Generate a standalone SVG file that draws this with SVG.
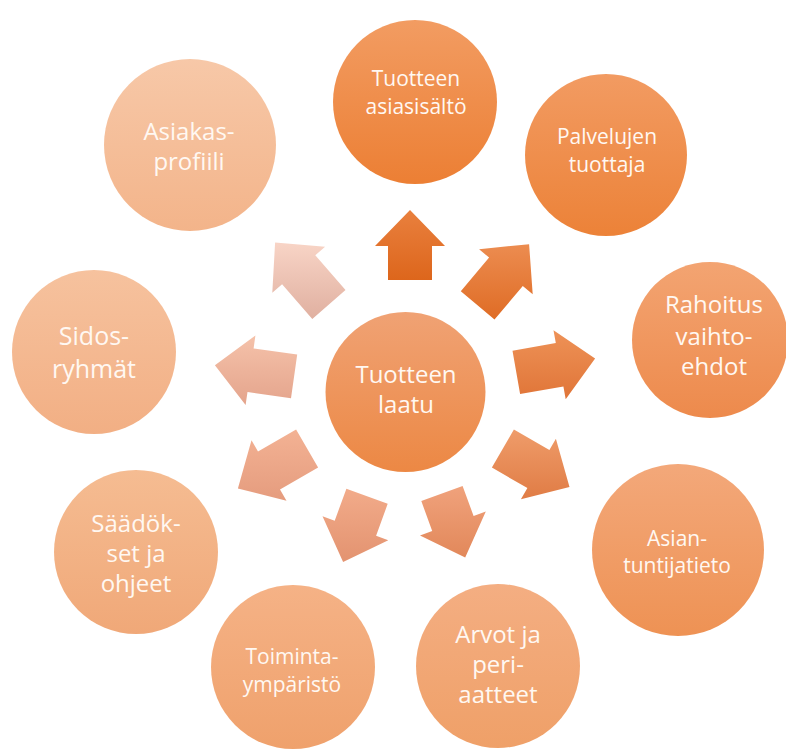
<svg xmlns="http://www.w3.org/2000/svg" width="786" height="749" viewBox="0 0 786 749">
<defs>
<linearGradient id="gC" x1="0" y1="0" x2="0" y2="1"><stop offset="0" stop-color="#f0a274"/><stop offset="1" stop-color="#ec8844"/></linearGradient>
<linearGradient id="g1" x1="0" y1="0" x2="0" y2="1"><stop offset="0" stop-color="#f29c62"/><stop offset="1" stop-color="#ec7f34"/></linearGradient>
<linearGradient id="g2" x1="0" y1="0" x2="0" y2="1"><stop offset="0" stop-color="#f29b62"/><stop offset="1" stop-color="#ec8238"/></linearGradient>
<linearGradient id="g3" x1="0" y1="0" x2="0" y2="1"><stop offset="0" stop-color="#f3a472"/><stop offset="1" stop-color="#ed8a4c"/></linearGradient>
<linearGradient id="g4" x1="0" y1="0" x2="0" y2="1"><stop offset="0" stop-color="#f3a87a"/><stop offset="1" stop-color="#ee9254"/></linearGradient>
<linearGradient id="g5" x1="0" y1="0" x2="0" y2="1"><stop offset="0" stop-color="#f4ae82"/><stop offset="1" stop-color="#efa068"/></linearGradient>
<linearGradient id="g6" x1="0" y1="0" x2="0" y2="1"><stop offset="0" stop-color="#f5b286"/><stop offset="1" stop-color="#efa16c"/></linearGradient>
<linearGradient id="g7" x1="0" y1="0" x2="0" y2="1"><stop offset="0" stop-color="#f5bc92"/><stop offset="1" stop-color="#f0a878"/></linearGradient>
<linearGradient id="g8" x1="0" y1="0" x2="0" y2="1"><stop offset="0" stop-color="#f6c29e"/><stop offset="1" stop-color="#f2af84"/></linearGradient>
<linearGradient id="g9" x1="0" y1="0" x2="0" y2="1"><stop offset="0" stop-color="#f7c8a8"/><stop offset="1" stop-color="#f3b48a"/></linearGradient>
<linearGradient id="a1" x1="0" y1="0" x2="0" y2="1"><stop offset="0" stop-color="#e9803e"/><stop offset="1" stop-color="#dd661c"/></linearGradient>
<linearGradient id="a2" x1="0" y1="0" x2="0" y2="1"><stop offset="0" stop-color="#ec8c50"/><stop offset="1" stop-color="#df6c25"/></linearGradient>
<linearGradient id="a3" x1="0" y1="0" x2="0" y2="1"><stop offset="0" stop-color="#ee9257"/><stop offset="1" stop-color="#e07538"/></linearGradient>
<linearGradient id="a4" x1="0" y1="0" x2="0" y2="1"><stop offset="0" stop-color="#ef9c6a"/><stop offset="1" stop-color="#e07c45"/></linearGradient>
<linearGradient id="a5" x1="0" y1="0" x2="0" y2="1"><stop offset="0" stop-color="#f0a27c"/><stop offset="1" stop-color="#e2885a"/></linearGradient>
<linearGradient id="a6" x1="0" y1="0" x2="0" y2="1"><stop offset="0" stop-color="#f2ab8a"/><stop offset="1" stop-color="#e39370"/></linearGradient>
<linearGradient id="a7" x1="0" y1="0" x2="0" y2="1"><stop offset="0" stop-color="#f3b294"/><stop offset="1" stop-color="#e59c7e"/></linearGradient>
<linearGradient id="a8" x1="0" y1="0" x2="0" y2="1"><stop offset="0" stop-color="#f5c2aa"/><stop offset="1" stop-color="#e4a48c"/></linearGradient>
<linearGradient id="a9" x1="0" y1="0" x2="0" y2="1"><stop offset="0" stop-color="#f8d4c6"/><stop offset="1" stop-color="#e0b0a0"/></linearGradient>
</defs>
<style>
text{font-family:"Open Sans","Noto Sans","DejaVu Sans",sans-serif;fill:#fff8f2;text-anchor:middle}
.s{font-size:21px}
.m{font-size:24px}
.l{font-size:25px}
</style>
<rect width="786" height="749" fill="#ffffff"/>
<g id="connectors">
<polygon fill="url(#a1)" points="388,280 388,246 375,246 410,210 445,246 432,246 432,280"/>
<polygon fill="url(#a2)" points="460.8,291.3 489.1,257.6 479.1,249.2 529.1,244.2 532.7,294.2 522.8,285.9 494.5,319.6"/>
<polygon fill="url(#a3)" points="512.5,350.7 555.8,343.1 553.5,330.3 595.1,358.5 565.7,399.2 563.4,386.4 520.1,394.1"/>
<polygon fill="url(#a4)" points="513.9,429.5 549.4,450 555.9,438.7 569.5,487 520.9,499.3 527.4,488.1 491.9,467.6"/>
<polygon fill="url(#a5)" points="462.6,486 473.6,516 485.8,511.6 465.2,557.4 420,535.5 432.2,531.1 421.3,501"/>
<polygon fill="url(#a6)" points="387.7,503.8 376.1,535.8 388.3,540.2 343.1,562.1 322.5,516.3 334.7,520.7 346.4,488.8"/>
<polygon fill="url(#a7)" points="318.1,467.6 280,489.6 286.5,500.8 237.9,488.5 251.5,440.2 258,451.5 296.1,429.5"/>
<polygon fill="url(#a8)" points="291,398.2 247.5,392.1 245.6,404.9 214.9,365.3 255.4,335.6 253.6,348.5 297.2,354.6"/>
<polygon fill="url(#a9)" points="312.3,318.9 282.1,284.2 272.3,292.7 275.1,242.6 325.1,246.8 315.3,255.3 345.5,290"/>
</g>
<g id="center">
<circle cx="405.5" cy="392" r="80" fill="url(#gC)"/>
<text class="m" x="406" y="383">Tuotteen</text>
<text class="m" x="406" y="413">laatu</text>
</g>
<g id="node-asiasisalto">
<circle cx="415" cy="102" r="82" fill="url(#g1)"/>
<text class="s" x="416" y="86">Tuotteen</text>
<text class="s" x="416" y="114">asiasisältö</text>
</g>
<g id="node-palvelujen">
<circle cx="606" cy="155" r="81" fill="url(#g2)"/>
<text class="s" x="607" y="144">Palvelujen</text>
<text class="s" x="607" y="172">tuottaja</text>
</g>
<g id="node-rahoitus">
<circle cx="710" cy="340" r="78" fill="url(#g3)"/>
<text class="m" x="714" y="313">Rahoitus</text>
<text class="m" x="714" y="345">vaihto-</text>
<text class="m" x="714" y="375">ehdot</text>
</g>
<g id="node-asiantuntijatieto">
<circle cx="678" cy="550" r="86" fill="url(#g4)"/>
<text class="s" x="677" y="546">Asian-</text>
<text class="s" x="677" y="573">tuntijatieto</text>
</g>
<g id="node-arvot">
<circle cx="498" cy="666" r="82" fill="url(#g5)"/>
<text class="m" x="498" y="643">Arvot ja</text>
<text class="m" x="498" y="673">peri-</text>
<text class="m" x="498" y="703">aatteet</text>
</g>
<g id="node-toimintaymparisto">
<circle cx="293" cy="667" r="82" fill="url(#g6)"/>
<text class="s" x="292" y="664">Toiminta-</text>
<text class="s" x="292" y="692">ympäristö</text>
</g>
<g id="node-saadokset">
<circle cx="136" cy="552" r="82" fill="url(#g7)"/>
<text class="m" x="136" y="532">Säädök-</text>
<text class="m" x="136" y="562">set ja</text>
<text class="m" x="136" y="592">ohjeet</text>
</g>
<g id="node-sidosryhmat">
<circle cx="94" cy="352" r="82" fill="url(#g8)"/>
<text class="l" x="94" y="345">Sidos-</text>
<text class="l" x="94" y="378">ryhmät</text>
</g>
<g id="node-asiakasprofiili">
<circle cx="190" cy="145" r="86" fill="url(#g9)"/>
<text class="m" x="189" y="140">Asiakas-</text>
<text class="m" x="189" y="170">profiili</text>
</g>
</svg>
